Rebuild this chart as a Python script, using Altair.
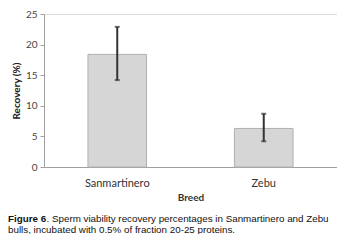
import altair as alt
import pandas as pd

breeds = ["Sanmartinero", "Zebu"]
recovery = [18.4, 6.3]
err_low = [14.2, 4.2]
err_high = [22.9, 8.7]
y_ticks = [0, 5, 10, 15, 20, 25]

df = pd.DataFrame({"breed": breeds, "value": recovery, "lo": err_low, "hi": err_high})

FONT = "Liberation Sans"
LABFONT = "Lato"

xaxis = alt.Axis(title="Breed", labelAngle=0, ticks=False, domainColor="#a0a0a0",
                 labelFont=LABFONT, labelFontSize=11, labelColor="#333", labelPadding=10,
                 titleFont=LABFONT, titleFontSize=10, titleFontWeight="bold", titleColor="#333",
                 titlePadding=4)
yaxis = alt.Axis(title="Recovery (%)", values=y_ticks, grid=False, labelOverlap=False,
                 domainColor="#a0a0a0", tickColor="#a0a0a0", tickSize=4,
                 labelFont=LABFONT, labelFontSize=10, labelColor="#444", labelPadding=3,
                 titleFont=LABFONT, titleFontSize=10, titleFontWeight="bold", titleColor="#222",
                 titlePadding=4)
xs = alt.Scale(paddingInner=0.6, paddingOuter=0.3)
ys = alt.Scale(domain=[0, 25])

def X():
    return alt.X("breed:N", sort=breeds, scale=xs, axis=xaxis)

bars = alt.Chart(df).mark_bar(color="#d6d6d6", stroke="#b0b0b0", strokeWidth=1).encode(
    x=X(), y=alt.Y("value:Q", scale=ys, axis=yaxis))

rules = alt.Chart(df).mark_rule(color="#333", strokeWidth=2).encode(
    x=X(), y=alt.Y("lo:Q", scale=ys, axis=yaxis), y2="hi:Q")
cap_lo = alt.Chart(df).mark_tick(color="#333", thickness=2, size=5).encode(
    x=X(), y=alt.Y("lo:Q", scale=ys, axis=yaxis))
cap_hi = alt.Chart(df).mark_tick(color="#333", thickness=2, size=5).encode(
    x=X(), y=alt.Y("hi:Q", scale=ys, axis=yaxis))

one = pd.DataFrame({"t": [0]})
cap1a = alt.Chart(one).mark_text(text="Figure 6", font=FONT, fontSize=9.8, fontWeight="bold",
                                 align="left", baseline="middle", color="#111").encode(
    x=alt.value(-36), y=alt.value(205))
cap1b = alt.Chart(one).mark_text(text=". Sperm viability recovery percentages in Sanmartinero and Zebu",
                                 font=FONT, fontSize=9.8, align="left", baseline="middle", color="#111").encode(
    x=alt.value(2.5), y=alt.value(205))
cap2 = alt.Chart(one).mark_text(text="bulls, incubated with 0.5% of fraction 20-25 proteins.",
                                font=FONT, fontSize=9.8, align="left", baseline="middle", color="#111").encode(
    x=alt.value(-36), y=alt.value(215.5))

chart = alt.layer(bars, rules, cap_lo, cap_hi, cap1a, cap1b, cap2).properties(
    width=293, height=153,
    autosize=alt.AutoSizeParams(type="none"),
    padding={"left": 36, "top": 6, "right": 0, "bottom": 67},
).configure_view(stroke=None).configure(background="white")

chart.save("out.html", embed_options={"renderer": "svg", "actions": False})
